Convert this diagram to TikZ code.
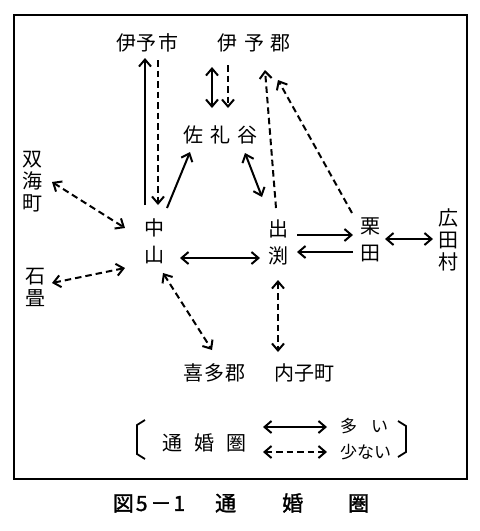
\documentclass[tikz,border=0pt]{standalone}
\usepackage{fontspec}
\setmainfont{Noto Sans CJK JP}
\newfontfamily\capfont[FakeBold=1.5]{Noto Sans CJK JP}
\usetikzlibrary{arrows.meta}
\begin{document}
\begin{tikzpicture}[x=1pt,y=-1pt,
  lbl/.style={inner sep=0pt, font=\fontsize{20}{27}\selectfont, align=center},
  lbltight/.style={inner sep=0pt, font=\fontsize{20}{22}\selectfont, align=center},
  leg/.style={inner sep=0pt, font=\fontsize{17}{20}\selectfont},
  sol/.style={line width=2pt},
  dsh/.style={line width=2pt, dash pattern=on 6.5pt off 4pt},
  frame/.style={line width=1.4pt},
  brk/.style={line width=1.8pt},
  >={Straight Barb[length=7pt,width=12pt]},
]
\useasboundingbox (0,0) rectangle (480,531);
\draw[frame] (14,15) rectangle (467,479);

% places
\node[lbl] (imashi) at (147,43) {伊\hspace{0pt}予\hspace{2pt}市};
\node[lbl] (iyogun) at (254,43) {伊\hspace{7pt}予\hspace{6pt}郡};
\node[lbl] (sarei) at (220,135) {佐\hspace{7pt}礼\hspace{7pt}谷};
\node[lbltight] (futami) at (33,182) {双\\海\\町};
\node[lbltight] (ishi) at (35,287) {石\\畳};
\node[lbl] (naka) at (154,241) {中\\山};
\node[lbl] (ide) at (278,242) {出\\渕};
\node[lbl] (kuri) at (370,240) {栗\\田};
\node[lbltight] (hirota) at (448,240) {広\\田\\村};
\node[lbl] (kita) at (214,373) {喜\hspace{1pt}多\hspace{1pt}郡};
\node[lbl] (uchi) at (304,373) {内\hspace{0pt}子\hspace{0pt}町};

% connectors
\draw[sol,->] ([shift={(-9,-36)}]naka.center) -- ([shift={(-2,15)}]imashi.center);
\draw[dsh,->] ([shift={(11,17)}]imashi.center) -- ([shift={(4,-36)}]naka.center);
\draw[sol,->] ([shift={(13,-33)}]naka.center) -- ([shift={(-30,17)}]sarei.center);
\draw[sol,<->] ([shift={(25,18)}]sarei.center) -- ([shift={(-16,-45)}]ide.center);
\draw[dsh,->] ([shift={(-2,-34)}]ide.center) -- ([shift={(11,27)}]iyogun.center);
\draw[dsh,->] ([shift={(-18,-27)}]kuri.center) -- ([shift={(24,37)}]iyogun.center);
\draw[sol,<->] ([shift={(-42,24)}]iyogun.center) -- ([shift={(-8,-27)}]sarei.center);
\draw[dsh,->] ([shift={(-26,22)}]iyogun.center) -- ([shift={(8,-27)}]sarei.center);
\draw[sol,->] ([shift={(19,-7)}]ide.center) -- ([shift={(-17,-5)}]kuri.center);
\draw[sol,->] ([shift={(-17,12)}]kuri.center) -- ([shift={(19,10)}]ide.center);
\draw[sol,<->] ([shift={(15,-1)}]kuri.center) -- ([shift={(-15,-1)}]hirota.center);
\draw[sol,<->] ([shift={(26,17)}]naka.center) -- ([shift={(-18,16)}]ide.center);
\draw[dsh,<->] ([shift={(19,0)}]futami.center) -- ([shift={(-29,-13)}]naka.center);
\draw[dsh,<->] ([shift={(17,-4)}]ishi.center) -- ([shift={(-29,27)}]naka.center);
\draw[dsh,<->] ([shift={(9,32)}]naka.center) -- ([shift={(-2,-23)}]kita.center);
\draw[dsh,<->] ([shift={(0,38)}]ide.center) -- ([shift={(-26,-21)}]uchi.center);

% legend
\node[lbl] (legtitle) at (204,443) {通\hspace{12pt}婚\hspace{12pt}圏};
\node[leg, anchor=west] (many) at (340,426) {多\hspace{14pt}い};
\node[leg, anchor=west] (few) at (340,452) {少ない};
\coordinate (ls) at (263,427);
\coordinate (ld) at (263,452);
\draw[sol,<->] (ls) -- ([xshift=-13]many.west |- ls);
\draw[dsh,<->] (ld) -- ([xshift=-13]few.west |- ld);
\draw[brk] (145,420) -- (137,425) -- (137,454) -- (145,459);
\draw[brk] (398,421) -- (406,426) -- (406,452) -- (398,457);

% caption
\node[inner sep=0pt, font=\fontsize{21}{24}\capfont] (cap) at (241,503)
  {図\hspace{2pt}5\hspace{3pt}－\hspace{2pt}1\hspace{30pt}通\hspace{46pt}婚\hspace{45pt}圏};
\end{tikzpicture}
\end{document}
